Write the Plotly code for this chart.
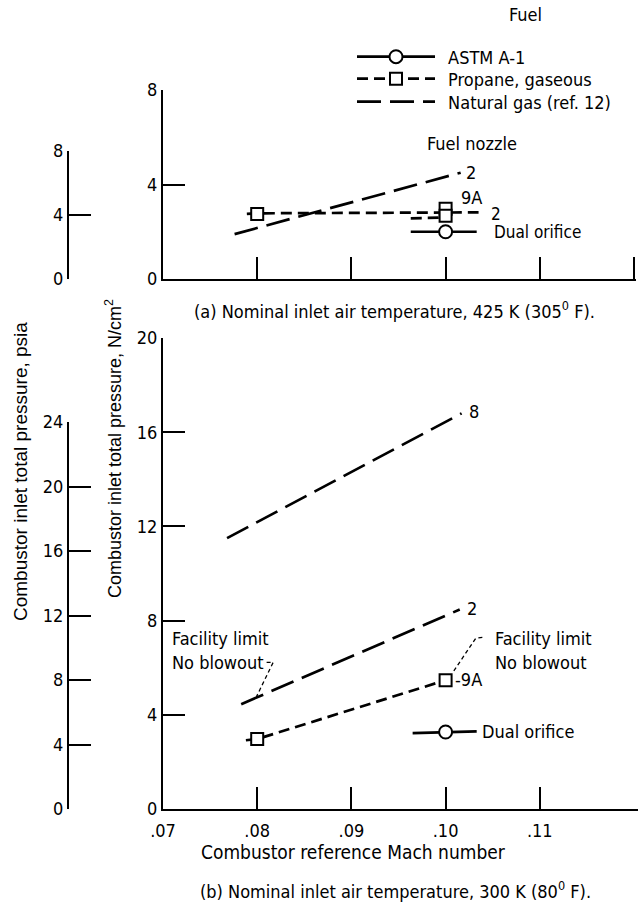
import plotly.graph_objects as go

W, H = 642, 904
NARROW = "Liberation Sans Narrow, DejaVu Sans Condensed, Arial Narrow, sans-serif"
REG = "Liberation Sans, Arial, sans-serif"

# ---------------- data ----------------
# Panel (a): nominal inlet air temperature 425 K  (Mach number, pressure N/cm^2)
a_ng_noz2_mach = [0.0776, 0.1016]
a_ng_noz2_p = [1.9, 4.5]
a_prop_noz2_mach = [0.0789, 0.0800, 0.1035]
a_prop_noz2_p = [2.76, 2.78, 2.82]
a_prop_noz9a_mach = [0.0963, 0.1000]
a_prop_noz9a_p = [2.57, 2.60]
a_prop_pts_mach = [0.080, 0.100, 0.100]
a_prop_pts_p = [2.75, 2.97, 2.68]
a_astm_dual_mach = [0.0963, 0.1033]
a_astm_dual_p = [2.0, 2.0]
a_astm_pts_mach = [0.100]
a_astm_pts_p = [2.0]

# Panel (b): nominal inlet air temperature 300 K
b_ng_noz8_mach = [0.0768, 0.1017]
b_ng_noz8_p = [11.5, 16.8]
b_ng_noz2_mach = [0.0783, 0.1015]
b_ng_noz2_p = [4.45, 8.47]
b_prop_noz9a_mach = [0.0788, 0.0800, 0.1000]
b_prop_noz9a_p = [2.92, 2.97, 5.47]
b_prop_pts_mach = [0.080, 0.100]
b_prop_pts_p = [2.97, 5.47]
b_astm_dual_mach = [0.0965, 0.1033]
b_astm_dual_p = [3.22, 3.30]
b_astm_pts_mach = [0.100]
b_astm_pts_p = [3.27]

# "Facility limit / No blowout" leader lines (panel b)
b_leader_left_mach = [0.0810, 0.0817, 0.0799]
b_leader_left_p = [6.23, 6.23, 4.75]
b_leader_right_mach = [0.1039, 0.1032, 0.1007]
b_leader_right_p = [7.29, 7.25, 5.76]

mach_ticks_a = [0.08, 0.09, 0.10, 0.11, 0.12]
mach_ticks_b = [0.07, 0.08, 0.09, 0.10, 0.11]
mach_ticktext_b = [".07", ".08", ".09", ".10", ".11"]
ncm_ticks_a = [0, 4, 8]
ncm_ticks_b = [0, 4, 8, 12, 16, 20]
psia_ticks_a = [0, 4, 8]
psia_ticks_b = [0, 4, 8, 12, 16, 20, 24]

LONG = "24px,9px"
SHORT = "11px,6px"
LW = 2.7
GAP = "\u2002"  # small gap between legend sample and legend text


def px(x):
    return x / W


def py(y):
    return 1 - y / H


fig = go.Figure()

# legend entries (one legend per row so rows sit at the reference spacing)
fig.add_trace(go.Scatter(x=[None], y=[None], xaxis="x", yaxis="y", name=GAP + "ASTM A-1",
                         legend="legend",
                         mode="lines+markers", line=dict(color="black", width=LW),
                         marker=dict(symbol="circle", size=13, color="white",
                                     line=dict(color="black", width=2))))
fig.add_trace(go.Scatter(x=[None], y=[None], xaxis="x", yaxis="y", name=GAP + "Propane, gaseous",
                         legend="legend2",
                         mode="lines+markers", line=dict(color="black", width=LW, dash=SHORT),
                         marker=dict(symbol="square", size=12, color="white",
                                     line=dict(color="black", width=2))))
fig.add_trace(go.Scatter(x=[None], y=[None], xaxis="x", yaxis="y", name=GAP + "Natural gas (ref. 12)",
                         legend="legend3",
                         mode="lines", line=dict(color="black", width=LW, dash=LONG)))


def line(x, y, xa, ya, dash=None, width=LW):
    fig.add_trace(go.Scatter(x=x, y=y, xaxis=xa, yaxis=ya, mode="lines",
                             line=dict(color="black", width=width, dash=dash),
                             showlegend=False, hoverinfo="skip"))


def pts(x, y, xa, ya, symbol, size):
    fig.add_trace(go.Scatter(x=x, y=y, xaxis=xa, yaxis=ya, mode="markers",
                             marker=dict(symbol=symbol, size=size, color="white",
                                         line=dict(color="black", width=2)),
                             showlegend=False, hoverinfo="skip"))


# panel (a)
line(a_ng_noz2_mach, a_ng_noz2_p, "x", "y", LONG)
line(a_prop_noz2_mach, a_prop_noz2_p, "x", "y", SHORT)
line(a_prop_noz9a_mach, a_prop_noz9a_p, "x", "y", SHORT)
line(a_astm_dual_mach, a_astm_dual_p, "x", "y")
pts(a_prop_pts_mach, a_prop_pts_p, "x", "y", "square", 12)
pts(a_astm_pts_mach, a_astm_pts_p, "x", "y", "circle", 13)

# panel (b)
line(b_ng_noz8_mach, b_ng_noz8_p, "x2", "y2", LONG)
line(b_ng_noz2_mach, b_ng_noz2_p, "x2", "y2", LONG)
line(b_prop_noz9a_mach, b_prop_noz9a_p, "x2", "y2", SHORT)
line(b_astm_dual_mach, b_astm_dual_p, "x2", "y2")
line(b_leader_left_mach, b_leader_left_p, "x2", "y2", "4px,3px", 1.3)
line(b_leader_right_mach, b_leader_right_p, "x2", "y2", "4px,3px", 1.3)
pts(b_prop_pts_mach, b_prop_pts_p, "x2", "y2", "square", 12)
pts(b_astm_pts_mach, b_astm_pts_p, "x2", "y2", "circle", 13)

# empty traces to register the psia axes
fig.add_trace(go.Scatter(x=[], y=[], xaxis="x3", yaxis="y3", showlegend=False))
fig.add_trace(go.Scatter(x=[], y=[], xaxis="x4", yaxis="y4", showlegend=False))

ax = dict(showgrid=False, zeroline=False, showline=True, linecolor="black", linewidth=2,
          ticks="inside", tickcolor="black", tickwidth=2, ticklen=22, automargin=False,
          tickfont=dict(family=NARROW, size=18, color="black"), fixedrange=True)


def leg(row_y):
    return dict(x=px(352), y=py(row_y), xanchor="left", yanchor="middle", itemwidth=78,
                font=dict(family=NARROW, size=18, color="black"), borderwidth=0,
                bgcolor="rgba(0,0,0,0)", itemclick=False, itemdoubleclick=False)


XR = [0.07, 0.07 + 473 / 9420]
fig.update_layout(
    template="none",
    width=W, height=H, margin=dict(l=0, r=0, t=0, b=0, pad=0, autoexpand=False),
    paper_bgcolor="white", plot_bgcolor="rgba(0,0,0,0)",
    font=dict(family=NARROW, size=18, color="black"),
    showlegend=True,
    legend=leg(57), legend2=leg(79), legend3=leg(102),
    xaxis=dict(ax, domain=[px(163), px(636)], range=XR, anchor="y",
               tickvals=mach_ticks_a, showticklabels=False),
    yaxis=dict(ax, domain=[py(279), py(90)], range=[0, 8], anchor="x", tickvals=ncm_ticks_a),
    xaxis2=dict(ax, domain=[px(163), px(638)], range=[0.07, 0.07 + 475 / 9420], anchor="y2",
                tickvals=mach_ticks_b, ticktext=mach_ticktext_b, ticklabelstandoff=4),
    yaxis2=dict(ax, domain=[py(809), py(338)], range=[0, 20], anchor="x2", tickvals=ncm_ticks_b),
    xaxis3=dict(domain=[px(69), px(636)], anchor="y3", visible=False, range=[0, 1],
                fixedrange=True, automargin=False),
    yaxis3=dict(ax, domain=[py(279), py(151)], range=[0, 8], anchor="x3", tickvals=psia_ticks_a),
    xaxis4=dict(domain=[px(69), px(636)], anchor="y4", visible=False, range=[0, 1],
                fixedrange=True, automargin=False),
    yaxis4=dict(ax, domain=[py(809), py(422)], range=[0, 24], anchor="x4", tickvals=psia_ticks_b),
)

ann = []


def pa(text, x, y, xanchor="center", size=18, family=NARROW, angle=0):
    ann.append(dict(text=text, x=px(x), y=py(y), xref="paper", yref="paper",
                    xanchor=xanchor, yanchor="middle", showarrow=False, textangle=angle,
                    font=dict(family=family, size=size, color="black")))


def da(text, x, y, xr, yr, xanchor="left", size=18):
    ann.append(dict(text=text, x=x, y=y, xref=xr, yref=yr, xanchor=xanchor, yanchor="middle",
                    showarrow=False, font=dict(family=NARROW, size=size, color="black")))


pa("Fuel", 525, 15)
pa("Fuel nozzle", 472, 143)
pa("(a) Nominal inlet air temperature, 425 K (305<sup>0</sup> F).", 394, 310)
pa("Combustor reference Mach number", 354, 852, size=19)
pa("(b) Nominal inlet air temperature, 300 K (80<sup>0</sup> F).", 395, 890)
pa("Combustor inlet total pressure, psia", 20, 472, family=REG, size=19, angle=-90)
pa("Combustor inlet total pressure, N/cm<sup>2</sup>", 113, 449, family=REG, size=18, angle=-90)

# panel (a) labels
da("2", 0.1020, 4.49, "x", "y")
da("9A", 0.1014, 3.43, "x", "y")
da("2", 0.1046, 2.74, "x", "y", size=17)
da("Dual orifice", 0.1049, 1.97, "x", "y", size=17)

# panel (b) labels
da("8", 0.1023, 16.9, "x2", "y2")
da("2", 0.1021, 8.5, "x2", "y2")
da("Facility limit", 0.0707, 7.25, "x2", "y2")
da("No blowout", 0.0707, 6.23, "x2", "y2")
da("Facility limit", 0.1050, 7.25, "x2", "y2")
da("No blowout", 0.1050, 6.23, "x2", "y2")
da("-9A", 0.1008, 5.5, "x2", "y2")
da("Dual orifice", 0.1037, 3.27, "x2", "y2")

fig.update_layout(annotations=ann)
fig.write_html("out.html", config={"displayModeBar": False, "staticPlot": True},
               post_script="document.body.style.margin='0';document.body.style.padding='0';")
